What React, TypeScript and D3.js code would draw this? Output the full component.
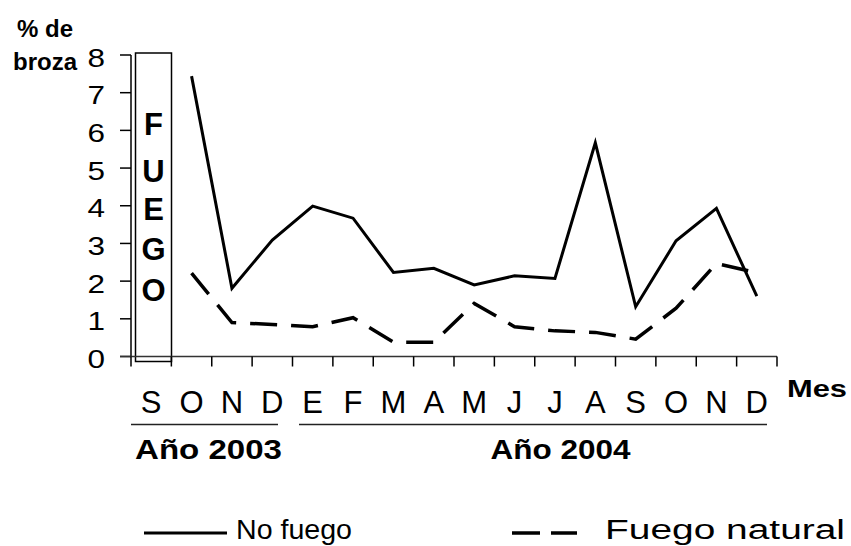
import React from "react";
import * as d3 from "d3";

const months = ["S", "O", "N", "D", "E", "F", "M", "A", "M", "J", "J", "A", "S", "O", "N", "D"];
const noFuego: (number | null)[] = [null, 7.44, 1.81, 3.09, 3.99, 3.67, 2.23, 2.34, 1.9, 2.14, 2.07, 5.67, 1.32, 3.07, 3.93, 1.6];
const fuegoNatural: (number | null)[] = [null, 2.21, 0.9, 0.85, 0.79, 1.03, 0.38, 0.38, 1.41, 0.79, 0.68, 0.64, 0.46, 1.28, 2.47, 2.22];
const yTicks = [0, 1, 2, 3, 4, 5, 6, 7, 8];
const fuegoLetters = ["F", "U", "E", "G", "O"];
const years = [
  { label: "Año 2003", from: 0, to: 4 },
  { label: "Año 2004", from: 4, to: 16 },
];

const FONT = "'Liberation Sans', Arial, Helvetica, sans-serif";

export default function App() {
  const W = 851;
  const H = 546;
  const x = d3.scaleBand<number>().domain(d3.range(months.length)).range([131, 777]).padding(0);
  const y = d3.scaleLinear().domain([0, 8]).range([356.5, 55]);
  const cx = (i: number) => (x(i) as number) + x.bandwidth() / 2;
  const line = d3
    .line<number | null>()
    .defined((d) => d !== null)
    .x((_, i) => cx(i))
    .y((d) => y(d as number));

  const boundaries = d3.range(months.length + 1).map((i) => 131 + i * x.bandwidth());
  const fuegoBaselines = [135, 182, 220, 260, 301];

  return (
    <svg
      width={W}
      height={H}
      viewBox={`0 0 ${W} ${H}`}
      style={{ position: "absolute", left: 0, top: 0, background: "#fff" }}
      fontFamily={FONT}
    >
      <rect x={0} y={0} width={W} height={H} fill="#fff" />
      {/* title */}
      <text x={45} y={37} textAnchor="middle" fontWeight="bold" fontSize={24}>% de</text>
      <text x={45} y={70} textAnchor="middle" fontWeight="bold" fontSize={24}>broza</text>

      {/* y axis */}
      <line x1={131} x2={131} y1={y(8)} y2={y(0)} stroke="#000" strokeWidth={1.5} />
      {yTicks.map((t) => (
        <g key={t}>
          <line x1={120} x2={131} y1={y(t)} y2={y(t)} stroke="#000" strokeWidth={1.5} />
          <text x={105} y={y(t) + 11.5} textAnchor="end" fontSize={25} textLength={17.5} lengthAdjust="spacingAndGlyphs">
            {t}
          </text>
        </g>
      ))}

      {/* FUEGO box */}
      <rect x={135.5} y={53} width={36} height={308.5} fill="none" stroke="#000" strokeWidth={1.5} />
      {fuegoLetters.map((l, i) => (
        <text key={i} x={153.5} y={fuegoBaselines[i]} textAnchor="middle" fontWeight="bold" fontSize={31}>
          {l}
        </text>
      ))}

      {/* x axis */}
      <line x1={120} x2={777} y1={y(0)} y2={y(0)} stroke="#333" strokeWidth={1.7} />
      {boundaries.map((b, i) => (
        <line key={i} x1={b} x2={b} y1={y(0)} y2={y(0) + 10} stroke="#000" strokeWidth={1.5} />
      ))}
      {months.map((m, i) => (
        <text key={i} x={cx(i)} y={413} textAnchor="middle" fontSize={31}>
          {m}
        </text>
      ))}
      <text x={787} y={397} fontWeight="bold" fontSize={24} textLength={60} lengthAdjust="spacingAndGlyphs">Mes</text>

      {/* years */}
      {years.map((yr, i) => {
        const x1 = i === 0 ? 131 : 299;
        const x2 = i === 0 ? 278 : 767;
        const mid = i === 0 ? 208.5 : 560.5;
        return (
          <g key={yr.label}>
            <line x1={x1} x2={x2} y1={424.5} y2={424.5} stroke="#222" strokeWidth={1.6} />
            <text x={mid} y={459} textAnchor="middle" fontWeight="bold" fontSize={28} textLength={i === 0 ? 147 : 140} lengthAdjust="spacingAndGlyphs">
              {yr.label}
            </text>
          </g>
        );
      })}

      {/* series */}
      <path d={line(noFuego) || ""} fill="none" stroke="#000" strokeWidth={3} strokeLinejoin="miter" />
      <path d={line(fuegoNatural) || ""} fill="none" stroke="#000" strokeWidth={3.5} strokeDasharray="27 14" />

      {/* legend */}
      <line x1={144} x2={227} y1={533} y2={533} stroke="#000" strokeWidth={3} />
      <text x={236} y={539} fontSize={27} textLength={116} lengthAdjust="spacingAndGlyphs">No fuego</text>
      <line x1={512} x2={577} y1={533} y2={533} stroke="#000" strokeWidth={3.5} strokeDasharray="28 11" />
      <text x={605} y={539} fontSize={27} textLength={240} lengthAdjust="spacingAndGlyphs">Fuego natural</text>
    </svg>
  );
}
